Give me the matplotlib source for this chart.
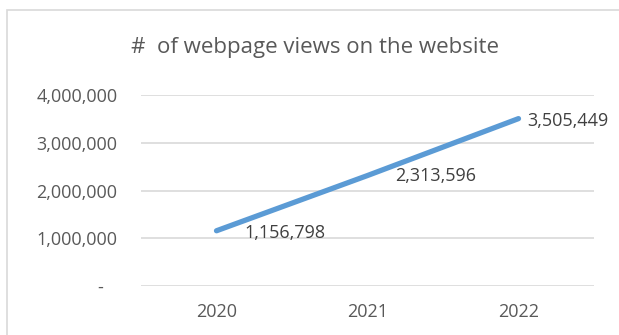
import matplotlib.pyplot as plt
from matplotlib.patches import Rectangle
from matplotlib.ticker import FuncFormatter

years = ["2020", "2021", "2022"]
views = [1156798, 2313596, 3505449]
y_ticks = [0, 1000000, 2000000, 3000000, 4000000]
label_offsets = [(28, -2), (28, 0), (9, -2)]  # pixels, to mimic Excel label placement

plt.rcParams["font.family"] = ["Open Sans", "DejaVu Sans"]
grey = "#595959"

fig = plt.figure(figsize=(6.19, 3.35), dpi=100)
fig.patches.append(Rectangle((7 / 619, -0.1), 1.2, 1 - 10 / 335 + 0.1, transform=fig.transFigure,
                             facecolor="white", edgecolor="#D9D9D9", linewidth=1.2, zorder=-10))

ax = fig.add_axes([141 / 619, 1 - 286 / 335, 453 / 619, 191 / 335])
ax.set_facecolor("none")
x = list(range(len(years)))
ax.plot(x, views, color="#5B9BD5", linewidth=3.8, solid_capstyle="round", clip_on=False)

for xi, v, (dx, dy) in zip(x, views, label_offsets):
    ax.annotate(f"{v:,}", (xi, v), xytext=(dx * 0.72, dy * 0.72), textcoords="offset points",
                ha="left", va="center", fontsize=13, color="#404040")

ax.set_xlim(-0.5, len(years) - 0.5)
ax.set_ylim(0, 4000000)
ax.set_xticks(x, years)
ax.set_yticks(y_ticks)
ax.yaxis.set_major_formatter(FuncFormatter(lambda v, p: "-   " if v == 0 else f"{int(v):,}"))
ax.grid(axis="y", color="#D9D9D9", linewidth=1.2)
ax.set_axisbelow(True)
for s in ax.spines.values():
    s.set_visible(False)
ax.tick_params(length=0, labelsize=13, colors=grey, pad=17)
ax.tick_params(axis="x", pad=12.5)

fig.text(315 / 619, 1 - 47 / 335, "#  of webpage views on the website", ha="center", va="center",
         fontsize=16, color=grey)

fig.savefig("out.png", dpi=100)
